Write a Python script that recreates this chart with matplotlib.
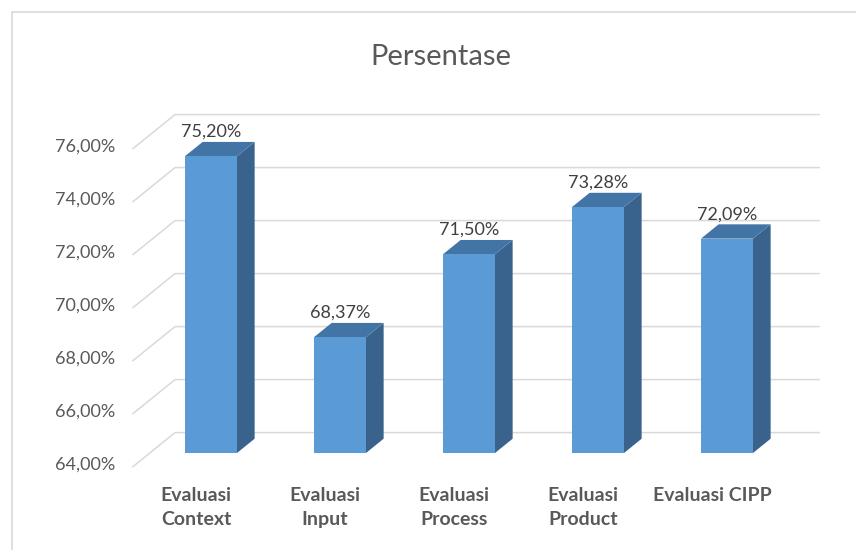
import matplotlib
matplotlib.use("Agg")
import matplotlib.pyplot as plt
from matplotlib.patches import Polygon, Rectangle

plt.rcParams["font.family"] = ["Lato", "DejaVu Sans"]

kategori = ["Evaluasi\nContext", "Evaluasi\nInput", "Evaluasi\nProcess",
            "Evaluasi\nProduct", "Evaluasi CIPP"]
persen = [75.20, 68.37, 71.50, 73.28, 72.09]
label_nilai = ["75,20%", "68,37%", "71,50%", "73,28%", "72,09%"]
y_ticks = [64, 66, 68, 70, 72, 74, 76]
y_ticklabels = ["64,00%", "66,00%", "68,00%", "70,00%", "72,00%", "74,00%", "76,00%"]
Y_MIN = 64

# oblique 3D look: bar plane in data units, depth offset in data units
PX_X, PX_Y = 129.0, 26.5          # px per category, px per 1%
DX, DY = 42 / PX_X, 34 / PX_Y     # full wall depth
BAR_W = 52 / PX_X
BAR_D = 0.42                      # bar depth as fraction of wall depth
X_BACK_L, X_BACK_R = (175 - 211) / PX_X, (819 - 211) / PX_X

FRONT = "#5B9BD5"
TOP = "#4374A6"
SIDE = "#39638C"
GRID = "#D9D9D9"
TXT = "#595959"

fig = plt.figure(figsize=(8.56, 5.5), dpi=100)
ax = fig.add_axes([0, 0, 1, 1])
ax.set_xlim(-211 / PX_X, (856 - 211) / PX_X)
ax.set_ylim(Y_MIN - (550 - 453) / PX_Y, Y_MIN + 453 / PX_Y)
ax.axis("off")

# chart border
ax.add_patch(Rectangle((-199 / PX_X, Y_MIN - 200), 50, 453 / PX_Y - 12 / PX_Y + 200,
                       fill=False, ec=GRID, lw=1.2, zorder=0))

# gridlines: back wall + left side wall diagonal
for v, lab in zip(y_ticks, y_ticklabels):
    xf = X_BACK_L - DX
    ax.plot([xf, X_BACK_L, X_BACK_R], [v - 0.4 * DY, v + 0.6 * DY, v + 0.6 * DY],
            color=GRID, lw=1.1, zorder=1)
    ax.text(xf - 18 / PX_X, v - 0.4 * DY + 2 / PX_Y, lab, ha="right", va="center",
            fontsize=13, color=TXT)

# bars
dx, dy = BAR_D * DX, BAR_D * DY
for i, (v, lab) in enumerate(zip(persen, label_nilai)):
    x0 = i - BAR_W / 2
    x1 = i + BAR_W / 2
    ax.add_patch(Polygon([(x1, Y_MIN), (x1 + dx, Y_MIN + dy), (x1 + dx, v + dy), (x1, v)],
                         closed=True, fc=SIDE, ec="none", zorder=3))
    ax.add_patch(Polygon([(x0, v), (x1, v), (x1 + dx, v + dy), (x0 + dx, v + dy)],
                         closed=True, fc=TOP, ec="none", zorder=3))
    ax.add_patch(Rectangle((x0, Y_MIN), BAR_W, v - Y_MIN, fc=FRONT, ec="none", zorder=4))
    ax.text(i, v + dy + 2 / PX_Y, lab, ha="center", va="bottom",
            fontsize=13, color="#404040", zorder=5)

# category labels
for i, k in enumerate(kategori):
    ax.text(i - 15 / PX_X, Y_MIN - 34 / PX_Y, k, ha="center", va="top",
            fontsize=14, fontweight="bold", color=TXT, linespacing=1.5)

ax.text((441 - 211) / PX_X, Y_MIN + (453 - 57) / PX_Y, "Persentase", ha="center",
        va="center", fontsize=21, color=TXT)

fig.savefig("out.png", dpi=100)
